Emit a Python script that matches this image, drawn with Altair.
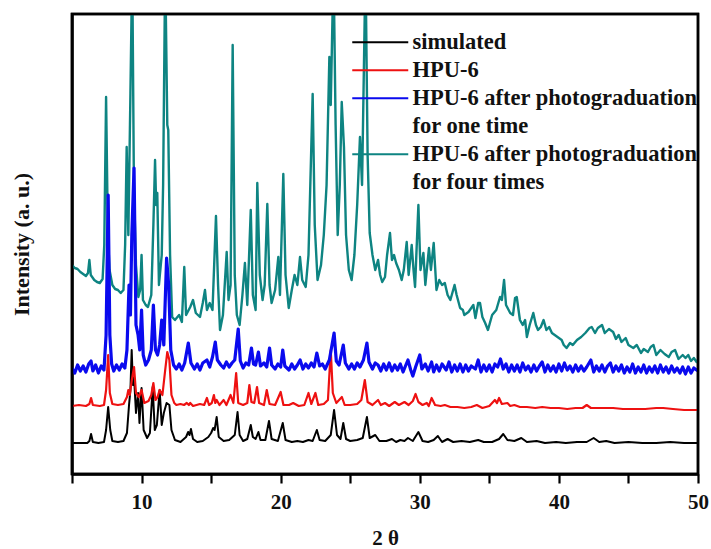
import altair as alt
import pandas as pd

# ---------------- data (2θ, intensity in arbitrary units) ----------------
sim_x = [5.0, 6.1, 6.25, 6.37, 6.5, 6.9, 7.3, 7.45, 7.6, 7.75, 7.9, 8.3, 8.7, 8.95, 9.1, 9.2, 9.29, 9.38, 9.46, 9.6,
         9.75, 9.85, 10.0, 10.15, 10.4, 10.6, 10.8, 10.95, 11.1, 11.3, 11.45, 11.6, 11.8, 12.0, 12.15, 12.4, 12.8, 13.2,
         13.35, 13.45, 13.55, 13.7, 14.0, 14.4, 14.8, 15.0, 15.15, 15.25, 15.4, 15.55, 15.9, 16.3, 16.7, 16.9, 17.05,
         17.3, 17.6, 17.85, 18.0, 18.2, 18.4, 18.55, 18.9, 19.16, 19.35, 19.8, 20.15, 20.35, 20.8, 21.2, 21.6, 22.0,
         22.3, 22.6, 22.8, 23.2, 23.6, 23.84, 24.05, 24.3, 24.5, 24.7, 25.0, 25.5, 25.9, 26.2, 26.4, 26.8, 27.1, 27.6,
         28.0, 28.3, 28.6, 28.9, 29.15, 29.5, 29.9, 30.2, 30.6, 31.0, 31.3, 31.6, 32.0, 32.4, 33.0, 33.6, 34.2, 34.6,
         35.2, 35.7, 36.0, 36.3, 36.8, 37.3, 37.7, 38.4, 39.0, 39.8, 40.5, 41.3, 42.0, 42.5, 42.9, 43.4, 44.0, 45.0,
         46.0, 47.0, 48.0, 49.0, 50.0]
sim_y = [42, 42, 44, 51, 43, 42, 43, 55, 78, 55, 44, 43, 44, 52, 80, 95, 135, 100, 108, 72,
         92, 62, 97, 55, 47, 52, 98, 55, 60, 95, 60, 72, 82, 80, 55, 45, 43, 48,
         53, 50, 56, 46, 43, 44, 48, 52, 57, 55, 68, 48, 44, 45, 50, 73, 50,
         44, 46, 60, 48, 46, 53, 45, 45, 64, 46, 44, 62, 45, 43, 44, 43, 45,
         44, 55, 45, 44, 50, 75, 50, 46, 62, 46, 44, 45, 47, 68, 47, 50, 44, 44,
         46, 43, 45, 44, 47, 44, 53, 44, 43, 45, 49, 43, 46, 43, 44, 43, 45, 43,
         43, 46, 51, 45, 44, 47, 43, 44, 42, 43, 42, 43, 43, 47, 43, 44, 42, 43,
         42, 42, 43, 42, 42]

hpu_x = [5.0, 5.5, 6.0, 6.25, 6.37, 6.5, 7.0, 7.3, 7.45, 7.6, 7.72, 7.9, 8.3, 8.7, 8.95, 9.05, 9.15, 9.3, 9.46, 9.6,
         9.8, 10.0, 10.2, 10.5, 10.7, 10.85, 11.0, 11.15, 11.3, 11.5, 11.7, 11.85, 12.0, 12.15, 12.35, 12.5, 12.8,
         13.05, 13.25, 13.4, 13.5, 13.7, 14.2, 14.5, 14.7, 14.85, 15.05, 15.2, 15.3, 15.4, 15.6, 15.9, 16.1, 16.4,
         16.6, 16.8, 16.95, 17.3, 17.6, 17.75, 17.9, 18.1, 18.3, 18.45, 18.8, 19.0, 19.2, 19.6, 20.0, 20.2, 20.6,
         20.9, 21.3, 21.7, 22.0, 22.2, 22.5, 22.7, 23.1, 23.4, 23.6, 23.75, 24.0, 24.4, 24.6, 25.0, 25.5, 25.8,
         26.05, 26.25, 26.6, 27.0, 27.2, 27.5, 27.8, 28.2, 28.5, 28.9, 29.2, 29.5, 29.7, 29.9, 30.2, 30.5, 30.65,
         30.85, 31.1, 31.5, 31.8, 32.2, 32.7, 33.2, 33.7, 34.1, 34.5, 35.0, 35.4, 35.55, 35.7, 35.9, 36.3, 36.5,
         36.8, 37.2, 37.7, 38.3, 38.8, 39.4, 40.0, 40.6, 41.2, 41.7, 42.0, 42.3, 43.0, 43.9, 44.6, 45.4, 46.2,
         47.0, 47.5, 48.2, 49.0, 50.0]
hpu_y = [79, 80, 79, 81, 87, 80, 79, 80, 95, 130, 92, 81, 80, 81, 88, 95, 90, 105, 118, 92,
         88, 95, 82, 84, 90, 102, 85, 88, 95, 90, 115, 133, 125, 90, 82, 80, 81,
         80, 82, 80, 82, 79, 81, 80, 87, 80, 82, 90, 82, 85, 80, 85, 80, 90,
         82, 112, 82, 80, 82, 100, 83, 82, 98, 82, 80, 95, 81, 80, 93, 80, 80,
         82, 79, 80, 92, 81, 92, 80, 81, 85, 135, 92, 82, 88, 80, 80, 81, 85,
         105, 83, 80, 85, 80, 82, 79, 83, 80, 83, 80, 84, 91, 83, 80, 82, 79,
         87, 80, 79, 80, 78, 78, 77, 78, 80, 77, 79, 85, 82, 87, 81, 82, 79,
         80, 78, 78, 77, 78, 77, 77, 76, 77, 77, 80, 77, 77, 77, 76, 76, 76,
         77, 77, 76, 75, 75]

one_x = [5.0, 5.2, 5.4, 5.6, 5.8, 6.0, 6.2, 6.37, 6.5, 6.7, 6.9, 7.1, 7.3, 7.45, 7.6, 7.72, 7.85, 8.0, 8.2, 8.4,
         8.6, 8.8, 8.95, 9.1, 9.2, 9.3, 9.46, 9.6, 9.75, 9.87, 10.0, 10.12, 10.3, 10.5, 10.7, 10.85, 11.0, 11.15,
         11.3, 11.45, 11.6, 11.8, 11.95, 12.1, 12.3, 12.5, 12.7, 12.9, 13.1, 13.36, 13.55, 13.8, 14.0, 14.2, 14.4,
         14.7, 14.9, 15.1, 15.3, 15.45, 15.7, 15.9, 16.1, 16.3, 16.5, 16.7, 16.95, 17.1, 17.3, 17.5, 17.7, 17.9,
         18.05, 18.2, 18.4, 18.55, 18.8, 19.0, 19.2, 19.35, 19.6, 19.8, 20.0, 20.15, 20.3, 20.6, 20.8, 21.0, 21.2,
         21.4, 21.6, 21.8, 22.0, 22.2, 22.4, 22.6, 22.8, 23.0, 23.2, 23.5, 23.84, 24.0, 24.2, 24.5, 24.65, 24.9,
         25.1, 25.3, 25.5, 25.7, 25.95, 26.2, 26.35, 26.6, 26.8, 27.0, 27.2, 27.4, 27.6, 27.8, 28.0, 28.2, 28.4,
         28.6, 28.8, 29.0, 29.15, 29.35, 29.5, 29.7, 30.0, 30.15, 30.4, 30.6, 30.85, 31.0, 31.2, 31.4, 31.6, 31.9,
         32.1, 32.3, 32.5, 32.7, 32.9, 33.1, 33.3, 33.5, 33.7, 34.0, 34.2, 34.4, 34.6, 34.8, 35.0, 35.2, 35.4,
         35.6, 35.8, 36.0, 36.2, 36.4, 36.6, 36.8, 37.0, 37.2, 37.4, 37.6, 37.8, 38.0, 38.2, 38.4, 38.6, 38.8,
         39.0, 39.2, 39.4, 39.6, 39.8, 40.0, 40.2, 40.4, 40.6, 40.8, 41.0, 41.2, 41.4, 41.6, 41.8, 42.0, 42.3,
         42.5, 42.7, 42.9, 43.1, 43.3, 43.5, 43.7, 43.9, 44.1, 44.3, 44.5, 44.7, 44.9, 45.1, 45.3, 45.5, 45.7,
         45.9, 46.1, 46.3, 46.5, 46.7, 46.9, 47.1, 47.3, 47.5, 47.7, 47.9, 48.1, 48.3, 48.5, 48.7, 48.9, 49.1,
         49.3, 49.5, 49.7, 50.0]
one_y = [117, 112, 120, 114, 119, 113, 121, 124, 114, 120, 112, 119, 115, 150, 290, 150, 121, 114, 120, 115,
         121, 117, 135, 200, 170, 250, 317, 160, 150, 135, 175, 130, 120, 125, 135, 180, 135, 130,
         140, 165, 140, 227, 200, 135, 120, 116, 121, 115, 122, 142, 122, 116, 121, 115, 122,
         125, 118, 128, 143, 125, 120, 117, 123, 118, 122, 125, 156, 124, 117, 122, 120, 137,
         121, 120, 133, 119, 122, 118, 137, 120, 116, 121, 118, 135, 119, 115, 121, 116, 120,
         125, 116, 121, 117, 122, 118, 132, 119, 121, 116, 125, 152, 124, 120, 140, 122, 116,
         121, 116, 122, 118, 125, 142, 123, 116, 122, 120, 114, 121, 115, 122, 114, 120, 115,
         121, 113, 120, 125, 115, 109, 118, 130, 116, 121, 114, 123, 113, 120, 114, 121, 115,
         123, 113, 120, 114, 121, 113, 120, 114, 119, 116, 125, 113, 120, 114, 120, 113, 121,
         118, 126, 116, 121, 113, 120, 114, 120, 113, 122, 115, 119, 113, 120, 114, 119, 123,
         113, 120, 114, 119, 113, 121, 114, 122, 115, 119, 113, 120, 114, 119, 114, 118, 125,
         113, 119, 114, 120, 113, 119, 122, 113, 119, 114, 120, 112, 118, 113, 121, 112, 118,
         113, 120, 112, 118, 113, 119, 112, 120, 113, 118, 112, 119, 113, 117, 112, 118, 111,
         118, 112, 117, 114]

four_x = [5.0, 5.2, 5.4, 5.6, 5.8, 6.0, 6.15, 6.25, 6.35, 6.6, 6.8, 7.0, 7.2, 7.32, 7.45, 7.58, 7.7, 7.9, 8.1, 8.3,
          8.5, 8.7, 8.82, 8.93, 9.05, 9.2, 9.33, 9.45, 9.6, 9.77, 9.9, 10.0, 10.1, 10.3, 10.46, 10.7, 10.85, 10.97,
          11.05, 11.13, 11.25, 11.45, 11.55, 11.7, 11.85, 11.92, 12.05, 12.2, 12.4, 12.7, 12.9, 13.07, 13.2, 13.5,
          13.7, 13.9, 14.2, 14.4, 14.56, 14.7, 14.9, 15.1, 15.35, 15.5, 15.64, 15.85, 16.12, 16.25, 16.4, 16.55,
          16.7, 16.85, 17.05, 17.25, 17.43, 17.6, 17.85, 18.0, 18.2, 18.32, 18.5, 18.7, 18.85, 19.04, 19.2, 19.35,
          19.6, 19.83, 19.95, 20.19, 20.35, 20.58, 20.8, 21.0, 21.2, 21.39, 21.55, 21.8, 22.0, 22.3, 22.45, 22.65,
          22.9, 23.1, 23.3, 23.5, 23.6, 23.8, 23.95, 24.1, 24.25, 24.39, 24.55, 24.7, 24.9, 25.1, 25.3, 25.5,
          25.7, 25.85, 26.1, 26.25, 26.4, 26.6, 26.8, 27.0, 27.15, 27.3, 27.5, 27.65, 27.86, 28.0, 28.15, 28.3,
          28.5, 28.7, 28.85, 29.06, 29.2, 29.42, 29.55, 29.66, 29.9, 30.05, 30.26, 30.4, 30.66, 30.8, 31.0, 31.2,
          31.4, 31.6, 31.8, 32.0, 32.2, 32.5, 32.65, 32.9, 33.1, 33.2, 33.5, 33.85, 34.0, 34.2, 34.33, 34.5, 34.7,
          34.9, 35.2, 35.5, 35.77, 35.9, 36.06, 36.2, 36.5, 36.7, 36.85, 36.97, 37.2, 37.4, 37.57, 37.7, 37.9,
          38.16, 38.35, 38.5, 38.7, 38.9, 39.1, 39.3, 39.5, 39.7, 39.9, 40.2, 40.35, 40.55, 40.8, 41.0, 41.3,
          41.6, 41.9, 42.2, 42.36, 42.6, 42.8, 43.1, 43.3, 43.6, 43.9, 44.1, 44.3, 44.5, 44.8, 45.0, 45.35, 45.6,
          45.9, 46.1, 46.4, 46.6, 46.8, 47.0, 47.3, 47.6, 47.9, 48.1, 48.35, 48.6, 48.9, 49.1, 49.3, 49.5, 49.7,
          49.9, 50.0]
four_y = [220, 217, 216, 213, 211, 209, 212, 225, 210, 205, 203, 202, 206, 240, 388, 250, 215, 200, 196, 195,
          192, 195, 240, 338, 250, 392, 520, 300, 220, 188, 195, 230, 185, 180, 178, 190, 260, 325,
          280, 292, 200, 230, 300, 520, 360, 355, 230, 168, 165, 170, 163, 218, 170, 178,
          185, 172, 168, 182, 195, 175, 182, 175, 269, 200, 155, 170, 233, 185, 200, 440,
          210, 170, 160, 190, 222, 180, 275, 190, 175, 302, 210, 185, 200, 281, 200, 182,
          195, 228, 190, 311, 210, 177, 195, 210, 200, 228, 205, 198, 230, 391, 260, 205,
          220, 250, 300, 428, 380, 520, 360, 250, 300, 383, 338, 250, 215, 205, 230, 280,
          348, 300, 520, 330, 252, 230, 215, 225, 210, 203, 208, 230, 252, 225, 230, 222,
          215, 205, 215, 243, 210, 240, 215, 198, 280, 215, 232, 200, 237, 215, 242, 195,
          205, 200, 202, 190, 185, 200, 190, 177, 175, 170, 173, 180, 167, 182, 182, 168, 162,
          155, 170, 175, 188, 185, 205, 180, 172, 170, 187, 188, 165, 160, 165, 148, 160,
          172, 160, 155, 158, 165, 155, 158, 152, 150, 148, 145, 140, 137, 142, 140, 145,
          148, 152, 157, 158, 152, 157, 160, 152, 156, 153, 146, 150, 143, 147, 140, 137, 140,
          132, 136, 133, 138, 140, 130, 135, 131, 128, 133, 135, 126, 130, 127, 130, 124, 127,
          123, 125]

# series names (full) and legend entries (second lines of long names are continuation rows)
series_names = [
    "simulated",
    "HPU-6",
    "HPU-6 after photograduation for one time",
    "HPU-6 after photograduation for four times",
]
legend_entries = [
    "simulated",
    "HPU-6",
    "HPU-6 after photograduation for one time",
    "for one time",
    "HPU-6 after photograduation for four times",
    "for four times",
]
legend_colors = ["#000000", "#ee1111", "#0a0aee", "transparent", "#0e8482", "transparent"]

x_domain = [5, 50]
y_domain = [11, 471]
x_tick_values = [5, 10, 15, 20, 25, 30, 35, 40, 45, 50]

# ---------------- build table ----------------
frames = []
for name, xs, ys in zip(series_names, [sim_x, hpu_x, one_x, four_x], [sim_y, hpu_y, one_y, four_y]):
    frames.append(pd.DataFrame({"two_theta": xs, "intensity": ys, "series": name, "idx": range(len(xs))}))
df = pd.concat(frames, ignore_index=True)
frame_df = pd.DataFrame({"x0": [x_domain[0]], "x1": [x_domain[1]], "y0": [y_domain[0]], "y1": [y_domain[1]]})

FONT = "Liberation Serif"

color_enc = alt.Color(
    "series:N",
    scale=alt.Scale(domain=legend_entries, range=legend_colors),
    legend=alt.Legend(
        title=None,
        orient="none",
        legendX=317,
        legendY=17,
        padding=0,
        symbolType="M-24,0H4",
        symbolSize=16,
        symbolStrokeWidth=2.2,
        symbolOffset=0,
        labelFont=FONT,
        labelFontWeight="bold",
        labelFontSize=22.5,
        labelColor="#111111",
        labelBaseline="middle",
        labelOffset=1,
        labelLimit=0,
        rowPadding=5,
        labelExpr="indexof(datum.label, 'after') > 0 ? 'HPU-6 after photograduation' : datum.label",
    ),
)

x_enc = alt.X(
    "two_theta:Q",
    scale=alt.Scale(domain=x_domain, nice=False),
    axis=alt.Axis(
        title="2 θ",
        values=x_tick_values,
        labelExpr="datum.value % 10 == 0 ? datum.label : ''",
        grid=False,
        tickSize=9,
        tickWidth=2.2,
        tickColor="black",
        domainColor="black",
        domainWidth=2.5,
        labelFont=FONT,
        labelFontWeight="bold",
        labelFontSize=21,
        labelColor="#111111",
        labelPadding=8,
        labelFlush=False,
        titleFont=FONT,
        titleFontWeight="bold",
        titleFontSize=21,
        titleColor="#111111",
        titlePadding=15,
    ),
)
y_enc = alt.Y(
    "intensity:Q",
    scale=alt.Scale(domain=y_domain, nice=False, zero=False),
    axis=alt.Axis(
        title="Intensity (a. u.)",
        labels=False,
        ticks=False,
        grid=False,
        domainColor="black",
        domainWidth=2.5,
        titleFont=FONT,
        titleFontWeight="bold",
        titleFontSize=22,
        titleColor="#111111",
        titlePadding=39,
    ),
)

# frame around the plotting area (closes the box at top and right)
frame = alt.Chart(frame_df).mark_rect(fillOpacity=0, stroke="black", strokeWidth=2.5).encode(
    x="x0:Q", x2="x1:Q", y="y0:Q", y2="y1:Q",
)

draw_order = [0, 1, 3, 2]
widths = {0: 2.0, 1: 2.2, 2: 3.2, 3: 2.4}
layers = []
for i in draw_order:
    layers.append(
        alt.Chart(df)
        .transform_filter(alt.datum.series == series_names[i])
        .mark_line(clip=True, strokeWidth=widths[i], strokeJoin="round")
        .encode(x=x_enc, y=y_enc, color=color_enc, order="idx:Q")
    )

chart = (
    alt.layer(*layers, frame)
    .properties(
        width=626,
        height=460,
        autosize=alt.AutoSizeParams(type="none"),
        padding={"left": 72, "top": 14, "right": 13, "bottom": 75},
        background="white",
    )
    .configure_view(stroke="black", strokeWidth=2.5)
)

chart.save("out.html", embed_options={"renderer": "svg", "actions": False})
